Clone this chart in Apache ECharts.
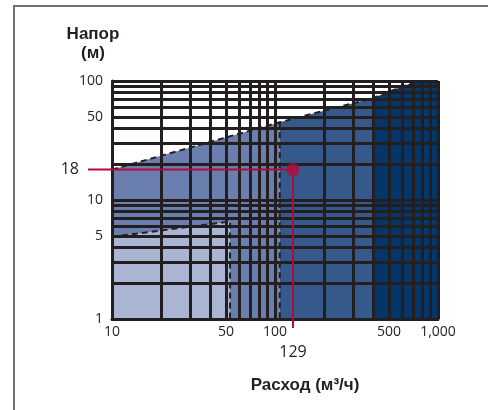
<!DOCTYPE html>
<html>
<head>
<meta charset="utf-8">
<script src="https://cdn.jsdelivr.net/npm/echarts@6/dist/echarts.min.js"></script>
<style>
  body { margin: 0; background: #fff; }
  #frame { position: absolute; left: 13px; top: 5px; width: 480px; height: 410px;
           border-left: 2px solid #707070; border-top: 2px solid #707070; }
  #chart { position: absolute; left: 0; top: 0; width: 488px; height: 410px; }
</style>
</head>
<body>
<div id="frame"></div>
<div id="chart"></div>
<script>
// axis labels
const flowLabels = [10, 50, 100, 129, 500, 1000];
const headLabels = [1, 5, 10, 18, 50, 100];

// pump range areas, top edge [flow, head]
const lowArea = [[10, 4.9], [53, 6.6]];
const midArea = [[10, 18], [107, 45]];
const highArea = [[107, 45], [400, 72]];
const topArea = [[400, 72], [740, 100], [1000, 100]];

// dashed borders
const upperEdge = [[10, 18], [107, 45], [400, 72], [740, 100]];
const lowEdge = [[10, 4.9], [53, 6.6], [53, 1]];
const midEdge = [[107, 45], [107, 1]];

// operating point 129 m3/h at 18 m, guide lines run past the axes
const dutyPoint = [129, 18];
const dutyHoriz = [[7.13, 18], [129, 18]];
const dutyVert = [[129, 18], [129, 0.84]];

const ink = '#231f20';
const red = '#b30a3c';
const gridStyle = { color: ink, width: 3 };

let myChart = echarts.init(document.getElementById('chart'));

function area(data, color) {
    return {
        type: 'line', data: data, symbol: 'none', z: 2,
        lineStyle: { width: 0 },
        areaStyle: { color: color, opacity: 1, origin: 'start' }
    };
}

function dashed(data) {
    return {
        type: 'line', data: data, symbol: 'none', z: 3,
        lineStyle: { color: ink, width: 2, type: [6, 4] }
    };
}

let option = {
    animation: false,
    title: [
        { text: 'Напор\n(м)', left: 88, top: 20, textAlign: 'center',
          textStyle: { fontFamily: 'Liberation Sans', fontSize: 17, fontWeight: 'bold', color: ink, lineHeight: 19 } },
        { text: 'Расход (м³/ч)', left: 300, top: 372, textAlign: 'center',
          textStyle: { fontFamily: 'Liberation Sans', fontSize: 17, fontWeight: 'bold', color: ink } }
    ],
    grid: [
        { left: 112, right: 50, top: 81, bottom: 91 },
        // wider twin grid for the red guide line that starts left of the plot
        { left: 88, right: 50, top: 81, bottom: 91 }
    ],
    xAxis: [{
        type: 'log', logBase: 10, min: 10, max: 1000, z: 5,
        axisLine: { show: true, lineStyle: { color: ink, width: 3 } },
        axisTick: { show: false },
        splitLine: { show: true, lineStyle: gridStyle },
        minorTick: { show: false, splitNumber: 9 },
        minorSplitLine: { show: true, lineStyle: gridStyle },
        axisLabel: {
            customValues: flowLabels, margin: 6,
            fontFamily: 'Open Sans', fontSize: 14, color: ink,
            formatter: function (v) {
                if (Math.round(v) === 129) return '{b|129}';
                return Math.round(v) === 1000 ? '1,000' : String(Math.round(v));
            },
            rich: { b: { fontFamily: 'Open Sans', fontSize: 16, color: ink, padding: [19, 0, 0, 0] } }
        }
    }, {
        type: 'log', logBase: 10, min: 7.13, max: 1000, gridIndex: 1, show: false
    }],
    yAxis: [{
        type: 'log', logBase: 10, min: 1, max: 100, z: 5,
        axisLine: { show: true, lineStyle: { color: ink, width: 3 } },
        axisTick: { show: false },
        splitLine: { show: true, lineStyle: gridStyle },
        minorTick: { show: false, splitNumber: 9 },
        minorSplitLine: { show: true, lineStyle: gridStyle },
        axisLabel: {
            customValues: headLabels, margin: 9,
            fontFamily: 'Open Sans', fontSize: 14, color: ink,
            formatter: function (v) {
                if (Math.round(v) === 18) return '{b|18}';
                return String(Math.round(v));
            },
            rich: { b: { fontFamily: 'Open Sans', fontSize: 16, color: ink, padding: [0, 24, 0, 0] } }
        }
    }, {
        type: 'log', logBase: 10, min: 1, max: 100, gridIndex: 1, show: false
    }],
    series: [
        area(topArea, '#05366a'),
        area(highArea, '#36598b'),
        area(midArea, '#6a7fad'),
        area(lowArea, '#a9b5d2'),
        dashed(upperEdge),
        dashed(lowEdge),
        dashed(midEdge),
        {
            type: 'line', data: dutyHoriz, xAxisIndex: 1, yAxisIndex: 1,
            symbol: 'none', z: 10, clip: false,
            lineStyle: { color: red, width: 2 }
        },
        {
            type: 'line', data: dutyVert, symbol: 'none', z: 10, clip: false,
            lineStyle: { color: red, width: 2 }
        },
        {
            type: 'scatter', data: [dutyPoint], symbolSize: 13, z: 11,
            itemStyle: { color: red }
        }
    ]
};
myChart.setOption(option);
</script>
</body>
</html>
